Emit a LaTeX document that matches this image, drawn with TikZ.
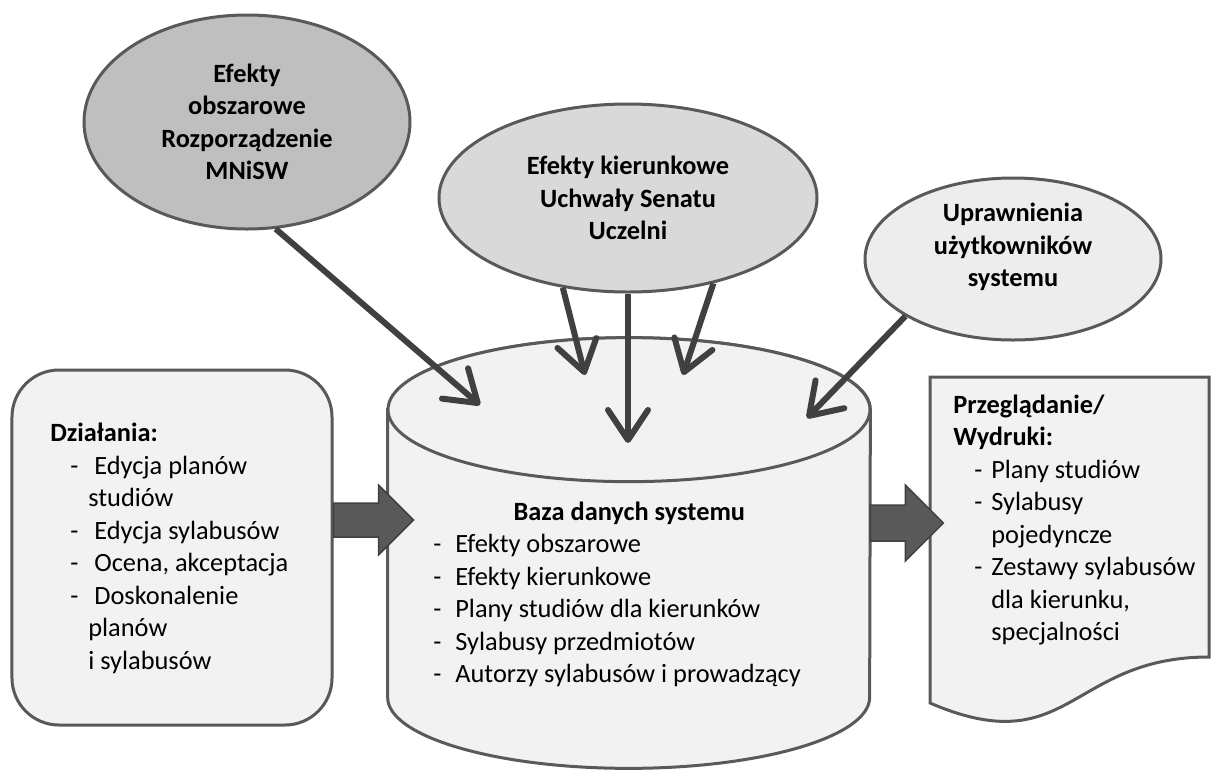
\documentclass[tikz,border=0pt]{standalone}
\usepackage{fontspec}
\setmainfont{Carlito}
\usetikzlibrary{shapes.geometric, arrows.meta}

\definecolor{edge}{HTML}{595959}
\definecolor{dark}{HTML}{404040}
\definecolor{panelfill}{HTML}{F2F2F2}

\newcommand{\dzitem}{\hspace*{4mm}\makebox[4.8mm][l]{-}}
\newcommand{\dzcont}{\hspace*{7.6mm}}
\newcommand{\dbitem}{\makebox[4.4mm][l]{-}}
\newcommand{\pritem}{\hspace*{4.2mm}\makebox[3.4mm][l]{-}}
\newcommand{\prcont}{\hspace*{7.6mm}}

\begin{document}
\begin{tikzpicture}[
  x=0.2mm, y=0.2mm,
  font=\fontsize{15}{18.5}\selectfont,
  every node/.style={inner sep=0pt},
  oval/.style={ellipse, draw=edge, line width=0.6mm, align=center,
    font=\fontsize{15}{18.5}\selectfont\bfseries},
  panel/.style={draw=edge, line width=0.6mm, fill=panelfill},
  feed/.style={draw=dark, line width=1.2mm,
    -{Straight Barb[length=6mm, width=8mm, round]}},
  blockarrow/.style={fill=edge, draw=dark, line width=0.3mm}
]
\useasboundingbox (0,0) rectangle (1212,-770);

\node (obsz) at (247,-122) [oval, fill=black!25,
  minimum width=65.2mm, minimum height=42.8mm]
  {Efekty\\obszarowe\\Rozporządzenie\\MNiSW};
\node (kier) at (628,-198) [oval, fill=black!15,
  minimum width=75.6mm, minimum height=37.6mm]
  {Efekty kierunkowe\\Uchwały Senatu\\Uczelni};
\node (upr) at (1013,-259) [oval, fill=black!7,
  minimum width=59.2mm, minimum height=32.4mm] {};
\node (uprtxt) at (1013,-247) [align=center, font=\fontsize{15}{18.5}\selectfont\bfseries]
  {Uprawnienia\\użytkowników\\systemu};

\node (dz) at (172,-547.5) [panel, rounded corners=9.4mm,
  minimum width=64mm, minimum height=71mm] {};
\node (dztxt) at (50,-548.5) [anchor=west, align=left]
  {\textbf{Działania:}\\
   \dzitem Edycja planów\\
   \dzcont studiów\\
   \dzitem Edycja sylabusów\\
   \dzitem Ocena, akceptacja\\
   \dzitem Doskonalenie\\
   \dzcont planów\\
   \dzcont i sylabusów};

\node (db) at (629,-553.5) [minimum width=96.4mm, minimum height=57.4mm] {};
\filldraw[panel] (db.north west) -- (db.south west)
  arc[start angle=180, end angle=360, x radius=241, y radius=71]
  -- (db.north east)
  arc[start angle=0, end angle=180, x radius=241, y radius=72] -- cycle;
\draw[panel] (db.north) ellipse[x radius=241, y radius=72];
\node (dbtxt) at (433,-594.5) [anchor=west, align=left]
  {\makebox[78.4mm][c]{\bfseries Baza danych systemu}\\
   \dbitem Efekty obszarowe\\
   \dbitem Efekty kierunkowe\\
   \dbitem Plany studiów dla kierunków\\
   \dbitem Sylabusy przedmiotów\\
   \dbitem Autorzy sylabusów i prowadzący};

\filldraw[panel] (930,-377) -- (1209,-377) -- (1209,-657)
  .. controls (1069.5,-657) and (1069.5,-763) .. (930,-703) -- cycle;
\node (prtxt) at (953,-520) [anchor=west, align=left]
  {\textbf{Przeglądanie/}\\
   \textbf{Wydruki:}\\
   \pritem Plany studiów\\
   \pritem Sylabusy\\
   \prcont pojedyncze\\
   \pritem Zestawy sylabusów\\
   \prcont dla kierunku,\\
   \prcont specjalności};

\filldraw[blockarrow] (dz.east |- 0,-520) ++(0,17) -- ++(45,0) -- ++(0,18)
  -- ++(35,-35) -- ++(-35,-35) -- ++(0,18) -- ++(-45,0) -- cycle;
\filldraw[blockarrow] (db.east |- 0,-523) ++(0,18) -- ++(35,0) -- ++(0,20)
  -- ++(38,-38) -- ++(-38,-38) -- ++(0,20) -- ++(-35,0) -- cycle;

\coordinate (t1) at (480,-405);
\coordinate (t2) at (585,-375);
\coordinate (t3) at (628,-443);
\coordinate (t4) at (683,-375);
\coordinate (t5) at (807,-418);

\draw[feed] (obsz.-75) -- (t1);
\draw[feed] (kier.-126) -- (t2);
\draw[feed] (kier.south) -- (t3);
\draw[feed] (kier.-45) -- (t4);
\draw[feed] (upr.-152) -- (t5);

\end{tikzpicture}
\end{document}
